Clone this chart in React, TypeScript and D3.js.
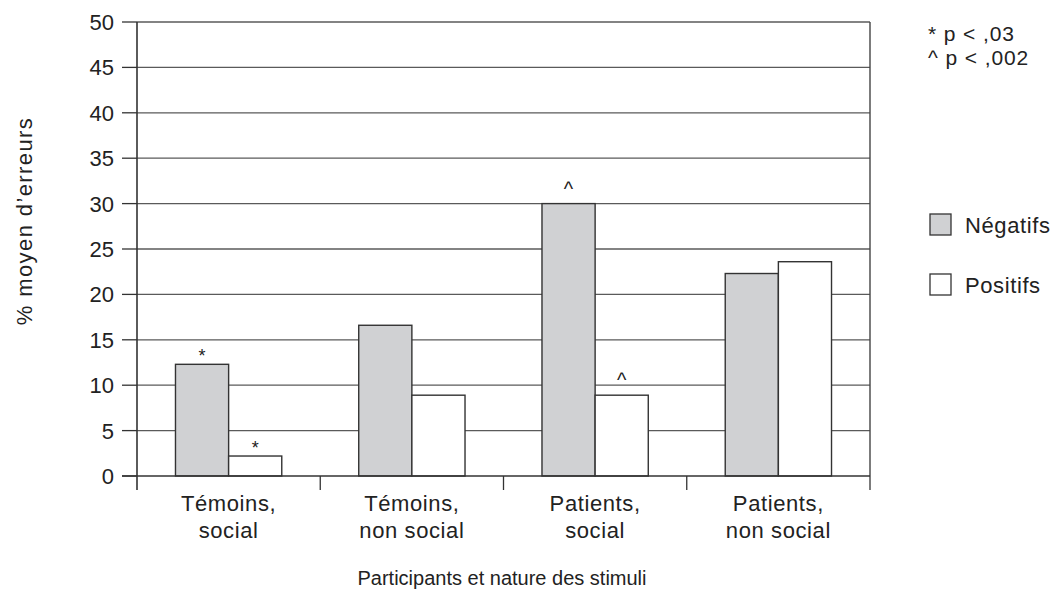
import React from "react";
import * as d3 from "d3";

const categories = [["Témoins,", "social"], ["Témoins,", "non social"], ["Patients,", "social"], ["Patients,", "non social"]];
const seriesNames = ["Négatifs", "Positifs"];
const negatifs = [12.3, 16.6, 30, 22.3];
const positifs = [2.2, 8.9, 8.9, 23.6];
const negMarks = ["*", "", "^", ""];
const posMarks = ["*", "", "^", ""];
const yTicks = [0, 5, 10, 15, 20, 25, 30, 35, 40, 45, 50];
const notes = ["* p < ,03", "^ p < ,002"];

const W = 1055, H = 590;
const left = 137, right = 870, top = 22, bottom = 476;
const font = "'Liberation Sans', Arial, Helvetica, sans-serif";
const txt = "#222";

export default function App() {
  const y = d3.scaleLinear().domain([0, 50]).range([bottom, top]);
  const x0 = d3.scaleBand<number>().domain(d3.range(categories.length)).range([left, right]).paddingInner(0.42).paddingOuter(0.21);
  const x1 = d3.scaleBand<number>().domain([0, 1]).range([0, x0.bandwidth()]);
  const step = (right - left) / categories.length;
  const series = [negatifs, positifs];
  const marks = [negMarks, posMarks];
  const fills = ["#d0d1d3", "#ffffff"];
  return (
    <svg width={W} height={H} style={{ position: "absolute", left: 0, top: 0 }} fontFamily={font}>
      <rect x={0} y={0} width={W} height={H} fill="#fff" />
      {yTicks.filter(t => t > 0).map(t => (
        <line key={t} x1={left} x2={right} y1={y(t)} y2={y(t)} stroke="#5a5a5a" strokeWidth={1.3} />
      ))}
      {yTicks.map(t => (
        <g key={"t" + t}>
          <line x1={left - 15} x2={left} y1={y(t)} y2={y(t)} stroke="#333" strokeWidth={1.3} />
          <text x={left - 23} y={y(t)} dy="0.36em" textAnchor="end" fontSize={22} fill={txt}>{t}</text>
        </g>
      ))}
      <line x1={right} x2={right} y1={top} y2={bottom + 14} stroke="#444" strokeWidth={1.4} />
      <line x1={left} x2={left} y1={top} y2={bottom + 14} stroke="#333" strokeWidth={1.6} />
      {d3.range(1, categories.length).map(i => (
        <line key={"c" + i} x1={left + step * i} x2={left + step * i} y1={bottom} y2={bottom + 14} stroke="#333" strokeWidth={1.3} />
      ))}
      {categories.map((c, i) => series.map((s, j) => {
        const bx = (x0(i) as number) + (x1(j) as number);
        return (
          <g key={i + "-" + j}>
            <rect x={bx} y={y(s[i])} width={x1.bandwidth()} height={bottom - y(s[i])} fill={fills[j]} stroke="#333" strokeWidth={1.4} />
            {marks[j][i] && (
              <text x={bx + x1.bandwidth() / 2} y={y(s[i]) - (marks[j][i] === "^" ? 8 : 2)} textAnchor="middle" fontSize={marks[j][i] === "^" ? 20 : 18} fill={txt}>{marks[j][i]}</text>
            )}
          </g>
        );
      }))}
      <line x1={left - 15} x2={right} y1={bottom} y2={bottom} stroke="#333" strokeWidth={1.5} />
      {categories.map((c, i) => (
        <text key={"l" + i} x={(x0(i) as number) + x0.bandwidth() / 2} y={511} textAnchor="middle" fontSize={22} letterSpacing={0.6} fill={txt}>
          <tspan x={(x0(i) as number) + x0.bandwidth() / 2}>{c[0]}</tspan>
          <tspan x={(x0(i) as number) + x0.bandwidth() / 2} dy={27}>{c[1]}</tspan>
        </text>
      ))}
      <text x={502} y={585} textAnchor="middle" fontSize={20} fill={txt}>Participants et nature des stimuli</text>
      <text transform={`translate(32,221) rotate(-90)`} textAnchor="middle" fontSize={22} letterSpacing={1.4} fill={txt}>% moyen d’erreurs</text>
      {notes.map((n, i) => (
        <text key={n} x={928} y={41 + i * 24} fontSize={21} letterSpacing={0.9} fill={txt}>{n}</text>
      ))}
      {seriesNames.map((n, i) => (
        <g key={n}>
          <rect x={930} y={214 + i * 60} width={21} height={21} fill={fills[i]} stroke="#333" strokeWidth={1.3} />
          <text x={965} y={225 + i * 60} dy="0.36em" fontSize={22} letterSpacing={0.6} fill={txt}>{n}</text>
        </g>
      ))}
    </svg>
  );
}
